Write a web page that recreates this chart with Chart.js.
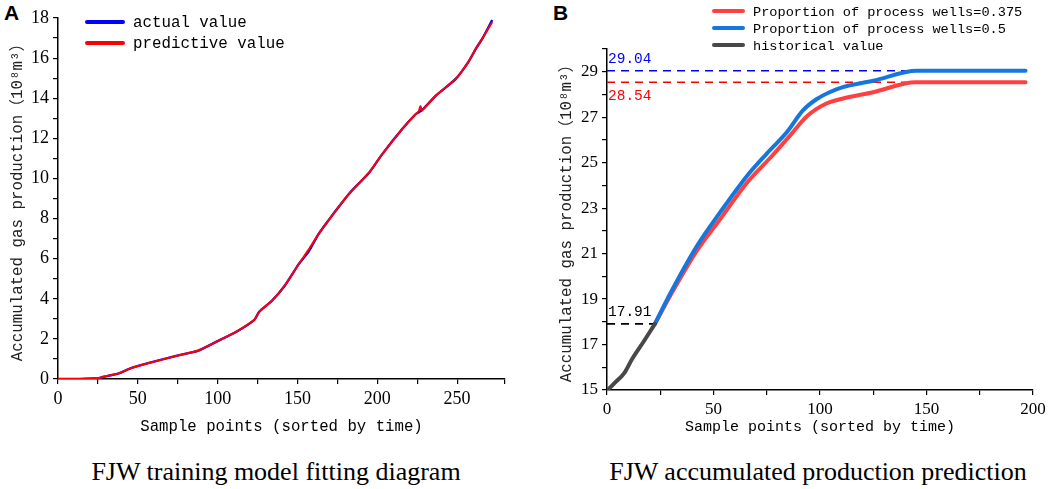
<!DOCTYPE html>
<html>
<head>
<meta charset="utf-8">
<script src="https://cdn.jsdelivr.net/npm/chart.js@4"></script>
<style>
  body { margin: 0; background: #fff; width: 1052px; height: 489px; position: relative; overflow: hidden; }
  .box { position: absolute; top: 0; height: 440px; }
  #boxA { left: 0; width: 520px; }
  #boxB { left: 530px; width: 522px; }
  .tag { position: absolute; top: 1px; font: bold 21px "Liberation Sans", Arial, sans-serif; }
  .caption { position: absolute; top: 457px; font: 26px "Liberation Serif", "Times New Roman", serif; text-align: center; width: 540px; }
  .legend { position: absolute; font-family: "Liberation Mono", "Noto Sans CJK SC", monospace; }
  .legend div { white-space: nowrap; }
  .legend span.sw { display: inline-block; height: 4px; border-radius: 2px; vertical-align: middle; position: relative; top: -1px; }
  #legendA { font-size: 15.8px; }
  #legendA div { height: 21px; line-height: 21px; }
  #legendA span.sw { width: 40px; margin-right: 8px; }
  #legendB { font-size: 13.6px; }
  #legendB div { height: 17px; line-height: 17px; }
  #legendB span.sw { width: 33px; margin-right: 8px; }
</style>
</head>
<body>
<div class="tag" style="left:4px">A</div>
<div class="tag" style="left:553px">B</div>
<div class="box" id="boxA"><canvas id="chartA"></canvas></div>
<div class="box" id="boxB"><canvas id="chartB"></canvas></div>
<div class="legend" id="legendA" style="left:85px; top:13px"></div>
<div class="legend" id="legendB" style="left:712px; top:4px"></div>
<div class="caption" style="left:6px">FJW training model fitting diagram</div>
<div class="caption" style="left:548px">FJW accumulated production prediction</div>
<script>
// ---- chart A: training model fitting ----
const FIT_X = [0, 12, 20, 25, 28, 38, 45, 57, 74, 88, 99, 112, 123, 126, 134, 142, 151, 157, 163, 170, 176, 183, 195, 203, 216, 224, 226, 227, 228, 237, 249, 257, 262, 266, 272];
const ACTUAL_Y = [0, 0, 0.02, 0.03, 0.1, 0.28, 0.52, 0.8, 1.15, 1.42, 1.85, 2.37, 2.95, 3.35, 3.9, 4.65, 5.75, 6.35, 7.2, 7.97, 8.6, 9.3, 10.3, 11.2, 12.5, 13.2, 13.3, 13.35, 13.4, 14.15, 14.95, 15.8, 16.5, 17.0, 17.9];
const PREDICT_Y = [0, 0, 0.02, 0.03, 0.1, 0.28, 0.52, 0.8, 1.15, 1.42, 1.85, 2.37, 2.95, 3.35, 3.9, 4.65, 5.75, 6.45, 7.2, 7.97, 8.6, 9.3, 10.3, 11.2, 12.5, 13.2, 13.35, 13.6, 13.4, 14.15, 14.95, 15.8, 16.5, 17.0, 17.8];
const SERIES_A = ['actual value', 'predictive value'];

// ---- chart B: accumulated production prediction ----
const HIST_X = [0, 1, 4, 8, 12, 17, 22.5];
const HIST_Y = [15.0, 15.07, 15.35, 15.73, 16.4, 17.1, 17.91];
const P05_X = [22.5, 30, 42, 53, 66, 75, 84.5, 92, 98.5, 104.5, 110, 125, 145.5, 196.5];
const P05_Y = [17.91, 19.3, 21.3, 22.8, 24.45, 25.4, 26.35, 27.3, 27.8, 28.1, 28.3, 28.6, 29.04, 29.04];
const P0375_X = [22.5, 30, 42, 53, 66, 77, 86, 94, 103, 110, 125, 145, 196.5];
const P0375_Y = [17.91, 19.2, 21.1, 22.5, 24.15, 25.25, 26.2, 27.05, 27.6, 27.8, 28.1, 28.54, 28.54];
const SERIES_B = ['Proportion of process wells=0.375', 'Proportion of process wells=0.5', 'historical value'];
const REF_VALUES = [29.04, 28.54, 17.91];
const REF_END_X = [144, 141, 22.5];
const REF_LABELS = ['29.04', '28.54', '17.91'];

const MONO = '"Liberation Mono", "Noto Sans CJK SC", monospace';
const SERIF = '"Liberation Serif", "Times New Roman", serif';
const Y_TITLE = 'Accumulated gas production（10⁸m³）';
const X_TITLE = 'Sample points (sorted by time)';

function pts(xs, ys) {
  return xs.map((x, i) => ({ x: x, y: ys[i] }));
}

function buildLegend(id, names, colors) {
  const el = document.getElementById(id);
  names.forEach((name, i) => {
    const row = document.createElement('div');
    row.innerHTML = '<span class="sw" style="background:' + colors[i] + '"></span>' + name;
    el.appendChild(row);
  });
}

function axisBase(min, max, step, labelEvery, fontSize) {
  return {
    type: 'linear',
    min: min,
    max: max,
    border: { color: '#000', width: 1.5 },
    grid: { drawOnChartArea: false, color: '#000', tickLength: 5, lineWidth: 1.2 },
    ticks: {
      stepSize: step,
      autoSkip: false,
      maxRotation: 0,
      color: '#000',
      padding: 4,
      font: { family: SERIF, size: fontSize },
      callback: (v) => (Math.round((v - min) / step) % labelEvery === 0 ? v : '')
    }
  };
}

const refLabels = {
  id: 'refLabels',
  afterDatasetsDraw(chart) {
    const { ctx, scales } = chart;
    const colors = ['#0000ff', '#ff0000', '#000'];
    const offs = [-4, 7, -4];
    ctx.save();
    ctx.font = '14.5px ' + MONO;
    REF_VALUES.forEach((v, i) => {
      const y = scales.y.getPixelForValue(v);
      ctx.fillStyle = colors[i];
      ctx.textBaseline = offs[i] < 0 ? 'bottom' : 'top';
      ctx.fillText(REF_LABELS[i], scales.x.getPixelForValue(0) + 1, y + offs[i]);
    });
    ctx.restore();
  }
};

Chart.defaults.animation = false;

// chart A
const xA = axisBase(0, 280, 25, 2, 18);
xA.ticks.callback = (v) => (v % 50 === 0 ? v : '');
xA.title = { display: true, text: X_TITLE, color: '#000', font: { family: MONO, size: 15.7 }, padding: { top: 1 } };
xA.afterFit = (s) => { s.height = 61; };
const yA = axisBase(0, 18, 1, 2, 18);
yA.title = { display: true, text: Y_TITLE, color: '#222', font: { family: MONO, size: 15.8 }, padding: { top: 8, bottom: 0 } };
yA.afterFit = (s) => { s.width = 58; };

new Chart(document.getElementById('chartA'), {
  type: 'line',
  data: {
    datasets: [
      { label: SERIES_A[0], data: pts(FIT_X, ACTUAL_Y), borderColor: '#0000ff', borderWidth: 2.4, pointRadius: 0, tension: 0.2, order: 2 },
      { label: SERIES_A[1], data: pts(FIT_X, PREDICT_Y), borderColor: '#ff0000', borderWidth: 2, pointRadius: 0, tension: 0.2, order: 1 }
    ]
  },
  options: {
    responsive: true,
    maintainAspectRatio: false,
    layout: { padding: { left: 0, right: 15, top: 18, bottom: 0 } },
    plugins: { legend: { display: false }, tooltip: { enabled: false } },
    scales: { x: xA, y: yA }
  }
});

// chart B
const xB = axisBase(0, 200, 25, 2, 17);
xB.ticks.callback = (v) => (v % 50 === 0 ? v : '');
xB.title = { display: true, text: X_TITLE, color: '#000', font: { family: MONO, size: 15 }, padding: { top: 0 } };
xB.afterFit = (s) => { s.height = 50; };
const yB = axisBase(15, 30, 1, 2, 17);
yB.title = { display: true, text: Y_TITLE, color: '#222', font: { family: MONO, size: 15.8 }, padding: { top: 27, bottom: 0 } };
yB.afterFit = (s) => { s.width = 77; };

const LINE_B = ['#ff4040', '#1577dd', '#484848'];
const REF_COLORS = ['#0000ff', '#ff0000', '#000'];

new Chart(document.getElementById('chartB'), {
  type: 'line',
  data: {
    datasets: [
      ...REF_VALUES.map((v, i) => ({
        label: 'ref ' + REF_LABELS[i],
        data: [{ x: 0, y: v }, { x: REF_END_X[i], y: v }],
        borderColor: REF_COLORS[i], borderWidth: 1.6, borderDash: [8, 6], pointRadius: 0, order: 5
      })),
      { label: SERIES_B[0], data: pts(P0375_X, P0375_Y), borderColor: LINE_B[0], borderWidth: 4, pointRadius: 0, cubicInterpolationMode: 'monotone', borderCapStyle: 'round', order: 3 },
      { label: SERIES_B[1], data: pts(P05_X, P05_Y), borderColor: LINE_B[1], borderWidth: 4, pointRadius: 0, cubicInterpolationMode: 'monotone', borderCapStyle: 'round', order: 2 },
      { label: SERIES_B[2], data: pts(HIST_X, HIST_Y), borderColor: LINE_B[2], borderWidth: 4, pointRadius: 0, cubicInterpolationMode: 'monotone', borderCapStyle: 'round', order: 1 }
    ]
  },
  options: {
    responsive: true,
    maintainAspectRatio: false,
    layout: { padding: { left: 0, right: 19, top: 49, bottom: 0 } },
    plugins: { legend: { display: false }, tooltip: { enabled: false } },
    scales: { x: xB, y: yB }
  },
  plugins: [refLabels]
});

buildLegend('legendA', SERIES_A, ['#0000ff', '#ff0000']);
buildLegend('legendB', SERIES_B, LINE_B);
</script>
</body>
</html>
